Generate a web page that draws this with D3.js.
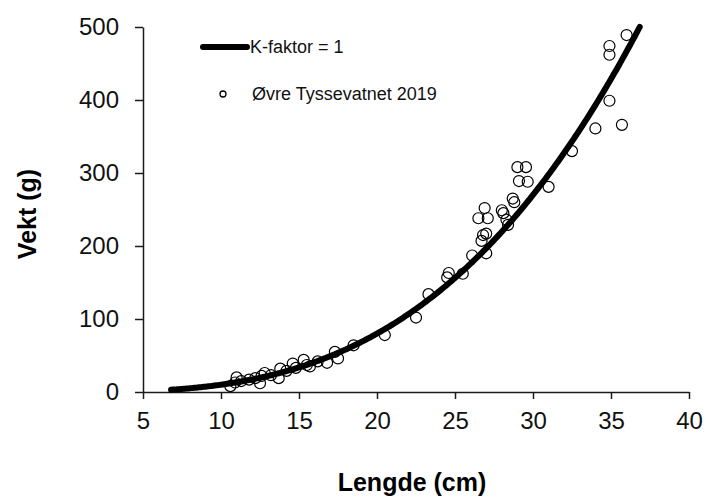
<!DOCTYPE html>
<html>
<head>
<meta charset="utf-8">
<script src="https://cdn.jsdelivr.net/npm/d3@7"></script>
<style>
  html, body { margin: 0; padding: 0; background: #fff; }
  svg { display: block; font-family: "Liberation Sans", Arial, sans-serif; }
</style>
</head>
<body>
<svg id="chart" width="706" height="499"></svg>
<script>
// Length (cm) and weight (g) of sampled fish
const lengths = [10.6, 10.9, 11.0, 11.3, 11.8, 12.2, 12.5, 12.6, 12.8, 13.2,
  13.7, 13.8, 14.2, 14.6, 14.8, 15.3, 15.5, 15.7, 16.2, 16.8,
  17.3, 17.5, 18.5, 20.5, 22.5, 23.3, 24.5, 24.6, 25.5, 26.1,
  26.5, 26.7, 26.8, 26.9, 27.0, 27.0, 27.1, 28.0, 28.1, 28.3,
  28.4, 28.7, 28.8, 29.0, 29.1, 29.55, 29.66, 31.0, 32.5, 34.0,
  34.9, 34.9, 34.9, 35.7, 36.0];
const weights = [8, 13, 20, 15, 17, 19, 12, 22, 26, 23,
  19, 32, 29, 39, 33, 44, 37, 35, 42, 40,
  55, 46, 64, 78, 102, 134, 157, 163, 162, 187,
  238, 207, 215, 252, 190, 217, 238, 249, 245, 236,
  229, 265, 260, 308, 289, 308, 288, 281, 330, 361,
  399, 462, 474, 366, 489];

// Condition factor of the reference curve: W = K * L^3 / 100
const kFactor = 1;
const curveStart = 6.8;

const xTicks = [5, 10, 15, 20, 25, 30, 35, 40];
const yTicks = [0, 100, 200, 300, 400, 500];

const legendLabels = ["K-faktor = 1", "Øvre Tyssevatnet 2019"];
const xTitle = "Lengde (cm)";
const yTitle = "Vekt (g)";

const svg = d3.select("#chart");

const x = d3.scaleLinear().domain([5, 40]).range([143, 689]);
const y = d3.scaleLinear().domain([0, 500]).range([392, 27]);

// Axes
const axisColor = "#1a1a1a";
const yAxis = svg.append("g")
  .attr("transform", `translate(${x(5)},0)`)
  .call(d3.axisLeft(y).tickValues(yTicks).tickSize(8).tickSizeOuter(0).tickPadding(16));
const xAxis = svg.append("g")
  .attr("transform", `translate(0,${y(0)})`)
  .call(d3.axisBottom(x).tickValues(xTicks).tickSize(7).tickSizeOuter(0).tickPadding(13));

[xAxis, yAxis].forEach(g => {
  g.select(".domain").attr("stroke", axisColor).attr("stroke-width", 1.5);
  g.selectAll(".tick line").attr("stroke", axisColor).attr("stroke-width", 1.5);
  g.selectAll(".tick text")
    .attr("fill", "#111")
    .style("font-size", "24px")
    .style("font-family", '"Liberation Sans", Arial, sans-serif');
});

// Reference curve, K = 1
const lMax = Math.cbrt(500 * 100 / kFactor);
const curveData = d3.range(curveStart, lMax, 0.1).concat([lMax])
  .map(L => [L, kFactor * L * L * L / 100]);

svg.append("path")
  .datum(curveData)
  .attr("fill", "none")
  .attr("stroke", "#000")
  .attr("stroke-width", 6)
  .attr("stroke-linecap", "round")
  .attr("d", d3.line().x(d => x(d[0])).y(d => y(d[1])).curve(d3.curveMonotoneX));

// Observations
svg.append("g")
  .selectAll("circle")
  .data(lengths.map((L, i) => ({ L, W: weights[i] })))
  .join("circle")
  .attr("cx", d => x(d.L))
  .attr("cy", d => y(d.W))
  .attr("r", 5.5)
  .attr("fill", "none")
  .attr("stroke", "#000")
  .attr("stroke-width", 1.2);

// Legend
const legend = svg.append("g");
legend.append("line")
  .attr("x1", 203).attr("x2", 247)
  .attr("y1", 47).attr("y2", 47)
  .attr("stroke", "#000").attr("stroke-width", 6).attr("stroke-linecap", "round");
legend.append("text")
  .attr("x", 250).attr("y", 47)
  .attr("dominant-baseline", "central")
  .style("font-size", "18px").attr("fill", "#111")
  .text(legendLabels[0]);
legend.append("circle")
  .attr("cx", 223).attr("cy", 94).attr("r", 3)
  .attr("fill", "none").attr("stroke", "#000").attr("stroke-width", 1.3);
legend.append("text")
  .attr("x", 252).attr("y", 94)
  .attr("dominant-baseline", "central")
  .style("font-size", "18px").attr("fill", "#111")
  .text(legendLabels[1]);

// Axis titles
svg.append("text")
  .attr("x", 412).attr("y", 482)
  .attr("text-anchor", "middle")
  .attr("dominant-baseline", "central")
  .style("font-size", "25px").style("font-weight", "bold")
  .text(xTitle);

svg.append("text")
  .attr("transform", "translate(27,214) rotate(-90)")
  .attr("text-anchor", "middle")
  .attr("dominant-baseline", "central")
  .style("font-size", "25px").style("font-weight", "bold")
  .text(yTitle);
</script>
</body>
</html>
